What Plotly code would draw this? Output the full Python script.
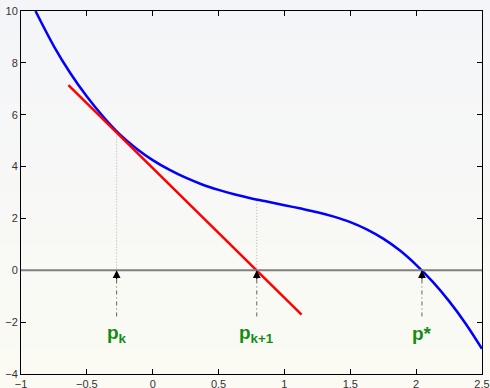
import plotly.graph_objects as go

# Function curve f(x), sampled on an even grid
curve_x = [-0.89, -0.75, -0.625, -0.5, -0.375, -0.25, -0.125, 0.0, 0.125, 0.25,
           0.375, 0.5, 0.625, 0.75, 0.875, 1.0, 1.125, 1.25, 1.375, 1.5,
           1.625, 1.75, 1.875, 2.0, 2.125, 2.25, 2.375, 2.5]
curve_y = [10.0, 8.64, 7.60, 6.70, 5.92, 5.24, 4.70, 4.25, 3.88, 3.57,
           3.31, 3.10, 2.92, 2.77, 2.64, 2.51, 2.38, 2.24, 2.07, 1.86,
           1.58, 1.22, 0.77, 0.21, -0.44, -1.19, -2.05, -3.03]

# Tangent line at p_k
tangent_x = [-0.64, 1.13]
tangent_y = [7.14, -1.71]

# Newton iterates and root
p_k, p_k1, p_star = -0.274, 0.79, 2.044
f_pk, f_pk1 = 5.31, 2.68
label_texts = ["p<sub>k</sub>", "p<sub>k+1</sub>", "p*"]
arrow_base = -1.78
label_y = -2.45

x_ticks = [-1, -0.5, 0, 0.5, 1, 1.5, 2, 2.5]
y_ticks = [-4, -2, 0, 2, 4, 6, 8, 10]

fig = go.Figure()

# Soft vertical background gradient
n_bands = 30
top_rgb, bot_rgb = (244, 245, 249), (251, 251, 243)
y0, y1 = -14 / 363, 1 + 11 / 363
for i in range(n_bands):
    t = i / (n_bands - 1)
    c = tuple(round(bot_rgb[k] + (top_rgb[k] - bot_rgb[k]) * t) for k in range(3))
    fig.add_shape(type="rect", xref="paper", yref="paper", layer="below",
                  x0=-0.05, x1=1.05,
                  y0=y0 + (y1 - y0) * i / n_bands,
                  y1=y0 + (y1 - y0) * (i + 1) / n_bands + 0.002,
                  fillcolor="rgb(%d,%d,%d)" % c, line_width=0)

# x-axis reference line
fig.add_hline(y=0, line=dict(color="#808080", width=2))

# Dotted drop lines from the curve
for px, fy in [(p_k, f_pk), (p_k1, f_pk1)]:
    fig.add_trace(go.Scatter(x=[px, px], y=[fy, 0], mode="lines",
                             line=dict(color="#b0b0b0", width=1, dash="1px,2px"),
                             hoverinfo="skip"))

# Dash-dot pointers with arrowheads
for px in [p_k, p_k1, p_star]:
    fig.add_trace(go.Scatter(x=[px, px], y=[arrow_base, -0.3], mode="lines",
                             line=dict(color="#606060", width=1, dash="4px,3px,1px,3px"),
                             hoverinfo="skip"))
    fig.add_annotation(x=px, y=0, ax=px, ay=-0.4, xref="x", yref="y",
                       axref="x", ayref="y", text="", showarrow=True,
                       arrowhead=2, arrowsize=1.3, arrowwidth=1.2, arrowcolor="black")

fig.add_trace(go.Scatter(x=curve_x, y=curve_y, mode="lines",
                         line=dict(color="#0000ff", width=2.5, shape="spline", smoothing=1),
                         hoverinfo="skip"))
fig.add_trace(go.Scatter(x=tangent_x, y=tangent_y, mode="lines",
                         line=dict(color="#ff0000", width=2.5),
                         hoverinfo="skip"))

for px, txt in zip([p_k, p_k1, p_star], label_texts):
    fig.add_annotation(x=px, y=label_y, xref="x", yref="y", text="<b>" + txt + "</b>",
                       showarrow=False, xanchor="center", yanchor="middle",
                       font=dict(family="Liberation Sans, Arial", size=19, color="#168a16"))

axis_common = dict(showline=True, linecolor="black", linewidth=1, mirror="ticks",
                   ticks="inside", ticklen=5, tickcolor="black", showgrid=False,
                   zeroline=False, automargin=False,
                   tickfont=dict(family="Liberation Sans, Arial", size=11, color="#333333"))

fig.update_xaxes(range=[-1, 2.5], tickvals=x_ticks,
                 ticktext=[("%g" % v).replace("-", "\u2212") for v in x_ticks],
                 **axis_common)
fig.update_yaxes(range=[-4, 10], tickvals=y_ticks,
                 ticktext=[("%g" % v).replace("-", "\u2212") for v in y_ticks],
                 **axis_common)

fig.update_layout(width=490, height=388, showlegend=False,
                  margin=dict(l=21, r=8, t=11, b=14),
                  paper_bgcolor="#f8f8f6", plot_bgcolor="rgba(0,0,0,0)")

fig.write_html("out.html")
